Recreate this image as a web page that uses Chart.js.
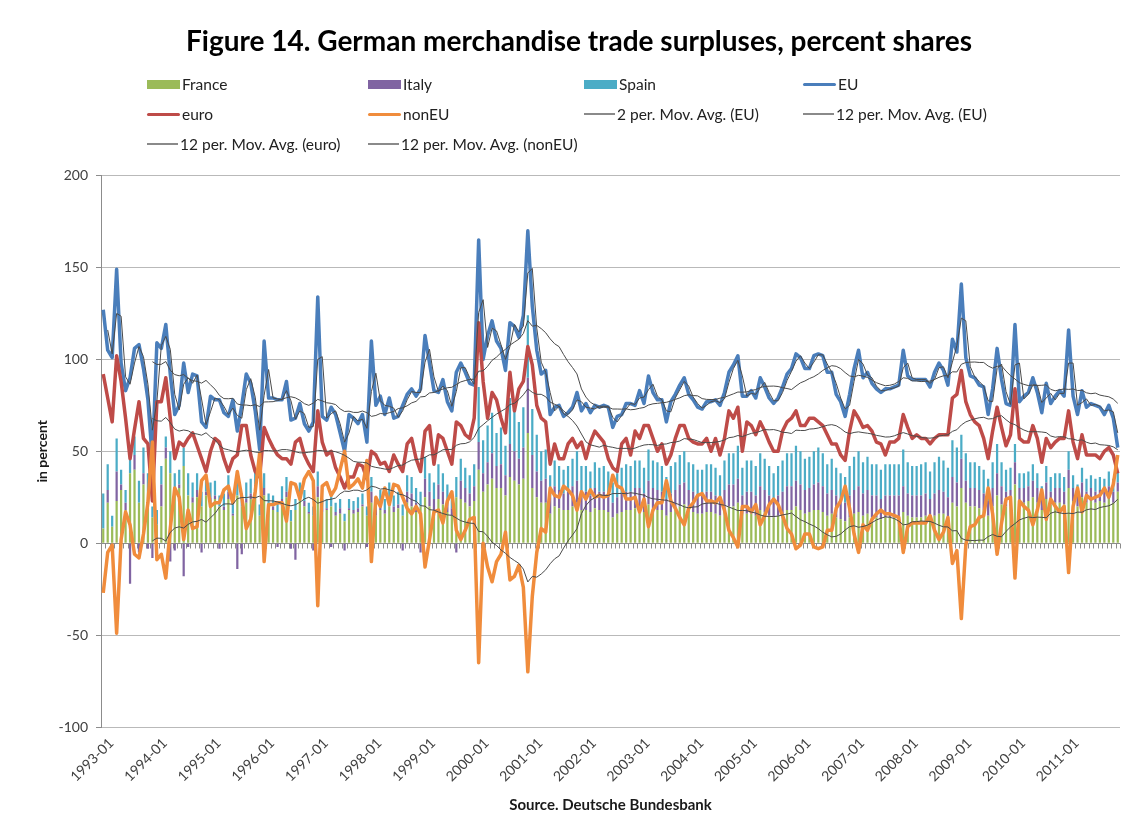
<!DOCTYPE html>
<html><head><meta charset="utf-8">
<script src="https://cdn.jsdelivr.net/npm/chart.js@4"></script>
<style>
html,body{margin:0;padding:0;background:#fff;}
#wrap{position:relative;width:1143px;height:833px;overflow:hidden;}
canvas{position:absolute;left:0;top:0;}
#legend{position:absolute;left:0;top:0;width:1143px;height:160px;pointer-events:none;font-family:Lato,'Liberation Sans',sans-serif;font-size:15.5px;color:#222;}
.item{position:absolute;display:flex;align-items:center;white-space:nowrap;height:18px;}
.sw{display:inline-block;margin-right:2px;}
</style></head><body>
<div id="wrap"><canvas id="c" width="1143" height="833"></canvas><div id="legend"></div></div>
<script>
// ---- categories ----
const YEARS = [1993,1994,1995,1996,1997,1998,1999,2000,2001,2002,2003,2004,2005,2006,2007,2008,2009,2010,2011];
const MONTHS = ['01','02','03','04','05','06','07','08','09','10','11','12'];
const categories = [];
YEARS.forEach(y => MONTHS.forEach(m => categories.push(y + '-' + m)));

// ---- series values (percent shares) ----
const france = [
 8,22,9,23,29,18,38,40,22,32,28,14,
 10,20,46,38,28,30,42,26,22,25,20,26,
 22,24,20,18,24,15,26,20,22,24,28,15,
 26,20,18,17,22,25,12,18,24,20,16,15,
 25,17,18,20,15,16,12,18,16,17,20,15,
 22,15,18,16,20,17,19,15,22,20,17,20,
 25,20,18,24,21,17,15,25,24,22,20,23,
 40,28,32,35,30,30,26,36,34,32,35,60,
 30,25,22,22,16,20,19,18,18,20,22,18,
 18,17,19,18,18,17,14,16,17,18,18,19,
 19,17,21,19,18,18,15,17,18,20,21,18,
 17,16,16,17,17,16,15,18,20,20,22,16,
 16,16,15,18,17,15,14,15,16,18,18,20,
 18,16,17,18,18,17,15,16,14,13,12,14,
 16,17,15,16,14,14,13,14,14,14,14,17,
 15,14,14,14,15,13,15,16,16,14,22,20,
 30,22,20,20,19,18,15,20,26,21,20,20,
 32,22,22,23,25,22,18,24,21,22,22,21,
 30,23,20,25,22,23,22,23,22,24,22,28];
const italy = [
 0,7,0,16,3,4,-22,8,-5,6,-3,-8,
 -6,12,6,-10,-4,2,-18,-2,3,4,-5,2,
 3,2,-3,2,4,1,-14,-6,2,3,4,0,
 4,1,2,-2,2,3,-3,-9,2,3,1,-4,
 6,2,1,-2,2,3,-4,1,2,2,1,-2,
 6,3,4,2,5,3,2,-4,6,7,5,-5,
 10,8,6,8,7,6,4,-5,10,8,7,8,
 15,10,12,14,12,13,11,18,16,14,17,30,
 18,14,12,13,9,11,10,9,10,11,12,10,
 10,9,11,10,10,9,8,9,10,10,10,11,
 11,10,13,11,11,10,9,10,11,12,12,11,
 11,10,10,11,11,10,9,11,12,12,13,10,
 12,12,11,13,12,11,10,11,12,13,13,14,
 14,13,13,14,15,14,12,13,12,11,10,12,
 13,14,12,13,12,12,11,12,12,12,12,14,
 12,12,12,12,12,11,12,13,12,11,14,13,
 16,12,10,10,10,9,8,10,12,10,8,9,
 12,8,8,8,9,8,6,9,7,8,8,7,
 10,7,6,8,6,7,6,6,6,7,6,5];
const spain = [
 19,14,6,18,8,7,14,10,12,14,10,6,
 8,10,6,12,10,8,10,12,8,9,8,8,
 8,8,6,7,9,6,8,7,9,8,8,6,
 8,6,6,6,7,8,6,6,7,6,5,5,
 8,5,5,6,5,5,4,5,5,6,6,5,
 8,6,7,6,8,6,7,6,9,9,8,8,
 12,10,9,11,10,9,8,11,12,11,10,12,
 30,18,20,22,18,20,16,25,22,20,22,34,
 25,20,16,16,12,14,13,13,14,15,16,14,
 14,13,14,13,14,13,11,13,14,15,14,15,
 15,14,17,15,15,14,12,15,15,16,17,15,
 15,14,14,15,15,15,13,16,17,17,18,15,
 17,17,16,18,17,16,14,16,17,18,18,19,
 18,17,17,18,19,18,16,17,15,14,14,16,
 18,19,17,18,17,17,16,17,17,17,17,20,
 17,16,16,17,17,15,17,18,17,16,20,19,
 13,15,14,14,13,13,12,14,16,13,12,12,
 10,8,8,8,9,8,7,9,8,8,8,8,
 10,7,6,8,7,7,7,7,7,8,7,6];
const eu = [
 127,105,101,149,98,83,90,106,108,95,78,45,
 109,106,119,92,70,75,98,82,92,91,66,63,
 80,78,78,71,69,78,61,75,92,87,72,51,
 110,79,79,78,78,88,67,68,76,65,61,66,
 134,69,67,74,70,60,50,70,68,65,70,55,
 110,75,80,70,79,68,69,75,81,84,80,84,
 113,98,83,82,89,77,72,93,98,93,87,86,
 165,100,113,121,110,106,94,120,118,112,124,170,
 129,105,92,94,70,74,75,69,71,74,82,72,
 76,71,75,74,75,74,63,69,70,76,76,75,
 83,76,91,82,78,78,66,77,81,86,90,81,
 78,74,73,77,77,78,75,82,93,97,102,80,
 80,83,79,90,85,79,76,79,85,92,95,103,
 101,95,95,102,103,102,93,93,81,77,69,81,
 95,105,90,93,87,84,82,84,84,85,86,105,
 91,89,89,89,89,85,93,98,94,86,111,104,
 141,101,91,90,86,85,70,84,106,89,76,75,
 119,77,80,82,90,82,71,87,76,80,83,80,
 116,80,70,83,74,76,75,74,70,75,68,52];
const euro = [
 92,79,66,102,88,68,46,62,77,57,54,23,
 77,77,90,68,46,55,53,57,60,53,46,39,
 50,57,55,46,39,46,48,64,64,48,39,36,
 63,57,52,48,46,46,43,55,57,48,43,39,
 72,55,48,50,41,36,30,36,36,43,42,35,
 50,48,43,44,39,48,43,39,54,57,46,39,
 61,64,43,59,57,50,43,66,64,59,57,68,
 120,88,68,82,78,68,60,93,72,84,88,107,
 97,75,68,66,43,54,46,46,54,57,52,55,
 46,55,61,58,55,46,41,39,54,57,48,61,
 57,64,64,57,50,54,43,48,57,64,64,57,
 55,54,54,57,50,57,48,57,72,68,74,50,
 66,64,59,66,61,55,50,50,61,66,68,72,
 64,64,68,68,66,64,59,54,54,48,45,61,
 72,68,63,64,61,55,54,48,55,55,57,70,
 63,57,59,57,57,54,57,59,59,59,79,81,
 94,77,70,66,64,57,46,61,74,63,53,59,
 84,57,55,55,64,57,44,57,52,55,57,57,
 72,55,46,59,48,48,48,46,50,52,48,38];
const nonEU = [
 -27,-5,-1,-49,2,17,10,-6,-8,5,22,55,
 -9,-6,-19,8,30,25,2,18,8,9,34,37,
 20,22,22,29,31,22,39,25,8,13,28,49,
 -10,21,21,22,22,12,33,32,24,35,39,34,
 -34,31,33,26,30,40,50,30,32,35,30,45,
 -10,25,20,30,21,32,31,25,19,16,20,16,
 -13,2,17,18,11,23,28,7,2,7,13,14,
 -65,0,-13,-21,-10,-6,6,-20,-18,-12,-24,-70,
 -29,-5,8,6,30,26,25,31,29,26,18,28,
 24,29,25,26,25,26,37,31,30,24,24,25,
 17,24,9,18,22,22,34,23,19,14,10,19,
 22,26,27,23,23,22,25,18,7,3,-2,20,
 20,17,21,10,15,21,24,21,15,8,5,-3,
 -1,5,5,-2,-3,-2,7,7,19,23,31,19,
 5,-5,10,7,13,16,18,16,16,15,14,-5,
 9,11,11,11,11,15,7,2,6,14,-11,-4,
 -41,-1,9,10,14,15,30,16,-6,11,24,25,
 -19,23,20,18,10,18,29,13,24,20,17,20,
 -16,20,30,17,26,24,25,26,30,25,32,48];

// ---- y-axis ticks ----
const Y_TICKS = [-100,-50,0,50,100,150,200];

// trendlines as in the original (n-period moving averages of the series)
function movingAverage(arr, n){
  return arr.map((v,i) => {
    if (i < n-1) return null;
    let s = 0; for (let k=i-n+1; k<=i; k++) s += arr[k];
    return s/n;
  });
}

const FONT = "Lato, 'Liberation Sans', sans-serif";
const MA_COLOR = '#4a4a4a';

const datasets = [
  {type:'bar', label:'France', data:france, backgroundColor:'#9bbb59', stack:'bars', order:7},
  {type:'bar', label:'Italy', data:italy, backgroundColor:'#8064a2', stack:'bars', order:8},
  {type:'bar', label:'Spain', data:spain, backgroundColor:'#4bacc6', stack:'bars', order:9},
  {type:'line', label:'EU', data:eu, borderColor:'#4a7ebb', borderWidth:3.5, stack:'l1', order:6},
  {type:'line', label:'euro', data:euro, borderColor:'#be4b48', borderWidth:3.5, stack:'l2', order:5},
  {type:'line', label:'nonEU', data:nonEU, borderColor:'#f08c3c', borderWidth:3.5, stack:'l3', order:4},
  {type:'line', label:'2 per. Mov. Avg. (EU)', data:movingAverage(eu,2), borderColor:MA_COLOR, borderWidth:1, stack:'l4', order:3},
  {type:'line', label:'12 per. Mov. Avg. (EU)', data:movingAverage(eu,12), borderColor:MA_COLOR, borderWidth:1, stack:'l5', order:2},
  {type:'line', label:'12 per. Mov. Avg. (euro)', data:movingAverage(euro,12), borderColor:MA_COLOR, borderWidth:1, stack:'l6', order:1},
  {type:'line', label:'12 per. Mov. Avg. (nonEU)', data:movingAverage(nonEU,12), borderColor:MA_COLOR, borderWidth:1, stack:'l7', order:0}
];
datasets.forEach(d => {
  if (d.type === 'line') { d.pointRadius = 0; d.tension = 0; d.fill = false; d.spanGaps = false; d.borderJoinStyle='round'; }
  else { d.barPercentage = 0.5; d.categoryPercentage = 1.0; }
});

const zeroAxis = {
  id:'zeroAxis',
  beforeDatasetsDraw(chart){
    const {ctx, chartArea:a, scales:{x,y}} = chart;
    const y0 = Math.round(y.getPixelForValue(0)) + 0.5;
    const w = x.getPixelForValue(1) - x.getPixelForValue(0);
    ctx.save();
    ctx.strokeStyle = '#8c8c8c'; ctx.lineWidth = 1;
    ctx.beginPath();
    ctx.moveTo(a.left, y0); ctx.lineTo(a.right, y0);
    for (let i=0; i<=categories.length; i++){
      const px = Math.round(x.getPixelForValue(0) - w/2 + i*w) + 0.5;
      ctx.moveTo(px, y0); ctx.lineTo(px, y0 + 5);
    }
    ctx.stroke();
    ctx.restore();
  }
};

const chart = new Chart(document.getElementById('c'), {
  data:{labels:categories, datasets},
  options:{
    responsive:false, animation:false,
    layout:{padding:{left:38, right:23, top:0, bottom:0}},
    plugins:{
      legend:{display:false},
      tooltip:{enabled:false},
      title:{display:true, text:'Figure 14. German merchandise trade surpluses, percent shares',
        color:'#000', font:{family:FONT, size:28, weight:'bold'}, padding:{top:25, bottom:117}}
    },
    scales:{
      x:{type:'category', offset:true, stacked:true,
        grid:{display:false}, border:{display:false},
        ticks:{autoSkip:false, maxRotation:45, minRotation:45, color:'#404040', font:{family:FONT, size:14}, padding:0, labelOffset:8,
          callback:(v,i) => (i % 12 === 0 ? categories[i] : null)},
        title:{display:true, text:'Source. Deutsche Bundesbank', color:'#1a1a1a', font:{family:FONT, size:15, weight:'bold'}, padding:{top:0, bottom:19}},
        afterFit(s){ s.height = 106; }
      },
      y:{min:-100, max:200, stacked:true,
        afterBuildTicks(s){ s.ticks = Y_TICKS.map(v => ({value:v})); },
        grid:{color:'#b9b9b9', tickLength:5, tickColor:'#8c8c8c'},
        border:{display:true, color:'#8c8c8c'},
        ticks:{color:'#404040', font:{family:FONT, size:14}, padding:8},
        title:{display:true, text:'in percent', color:'#1a1a1a', font:{family:FONT, size:14, weight:'bold', lineHeight:0.6}, padding:{top:0, bottom:0}},
        afterFit(s){ s.width = 63; }
      }
    }
  },
  plugins:[zeroAxis]
});

// legend (HTML, built from the chart's datasets)
const COLS = [147, 368, 584, 803];
const ROWS = [84, 114, 144];
const leg = document.getElementById('legend');
chart.data.datasets.forEach((d, k) => {
  const it = document.createElement('div');
  it.className = 'item';
  it.style.left = COLS[k % 4] + 'px';
  it.style.top = (ROWS[Math.floor(k / 4)] - 9) + 'px';
  const sw = document.createElement('span');
  sw.className = 'sw';
  sw.style.width = '33px';
  if (d.type === 'bar') { sw.style.height = '9px'; sw.style.background = d.backgroundColor; }
  else if (d.borderWidth > 2) { sw.style.height = '3px'; sw.style.background = d.borderColor; sw.style.borderRadius='2px'; }
  else { sw.style.height = '1.5px'; sw.style.background = '#8a8a8a'; sw.style.width='31px'; }
  it.appendChild(sw);
  const t = document.createElement('span'); t.textContent = d.label; it.appendChild(t);
  leg.appendChild(it);
});
</script>
</body></html>
